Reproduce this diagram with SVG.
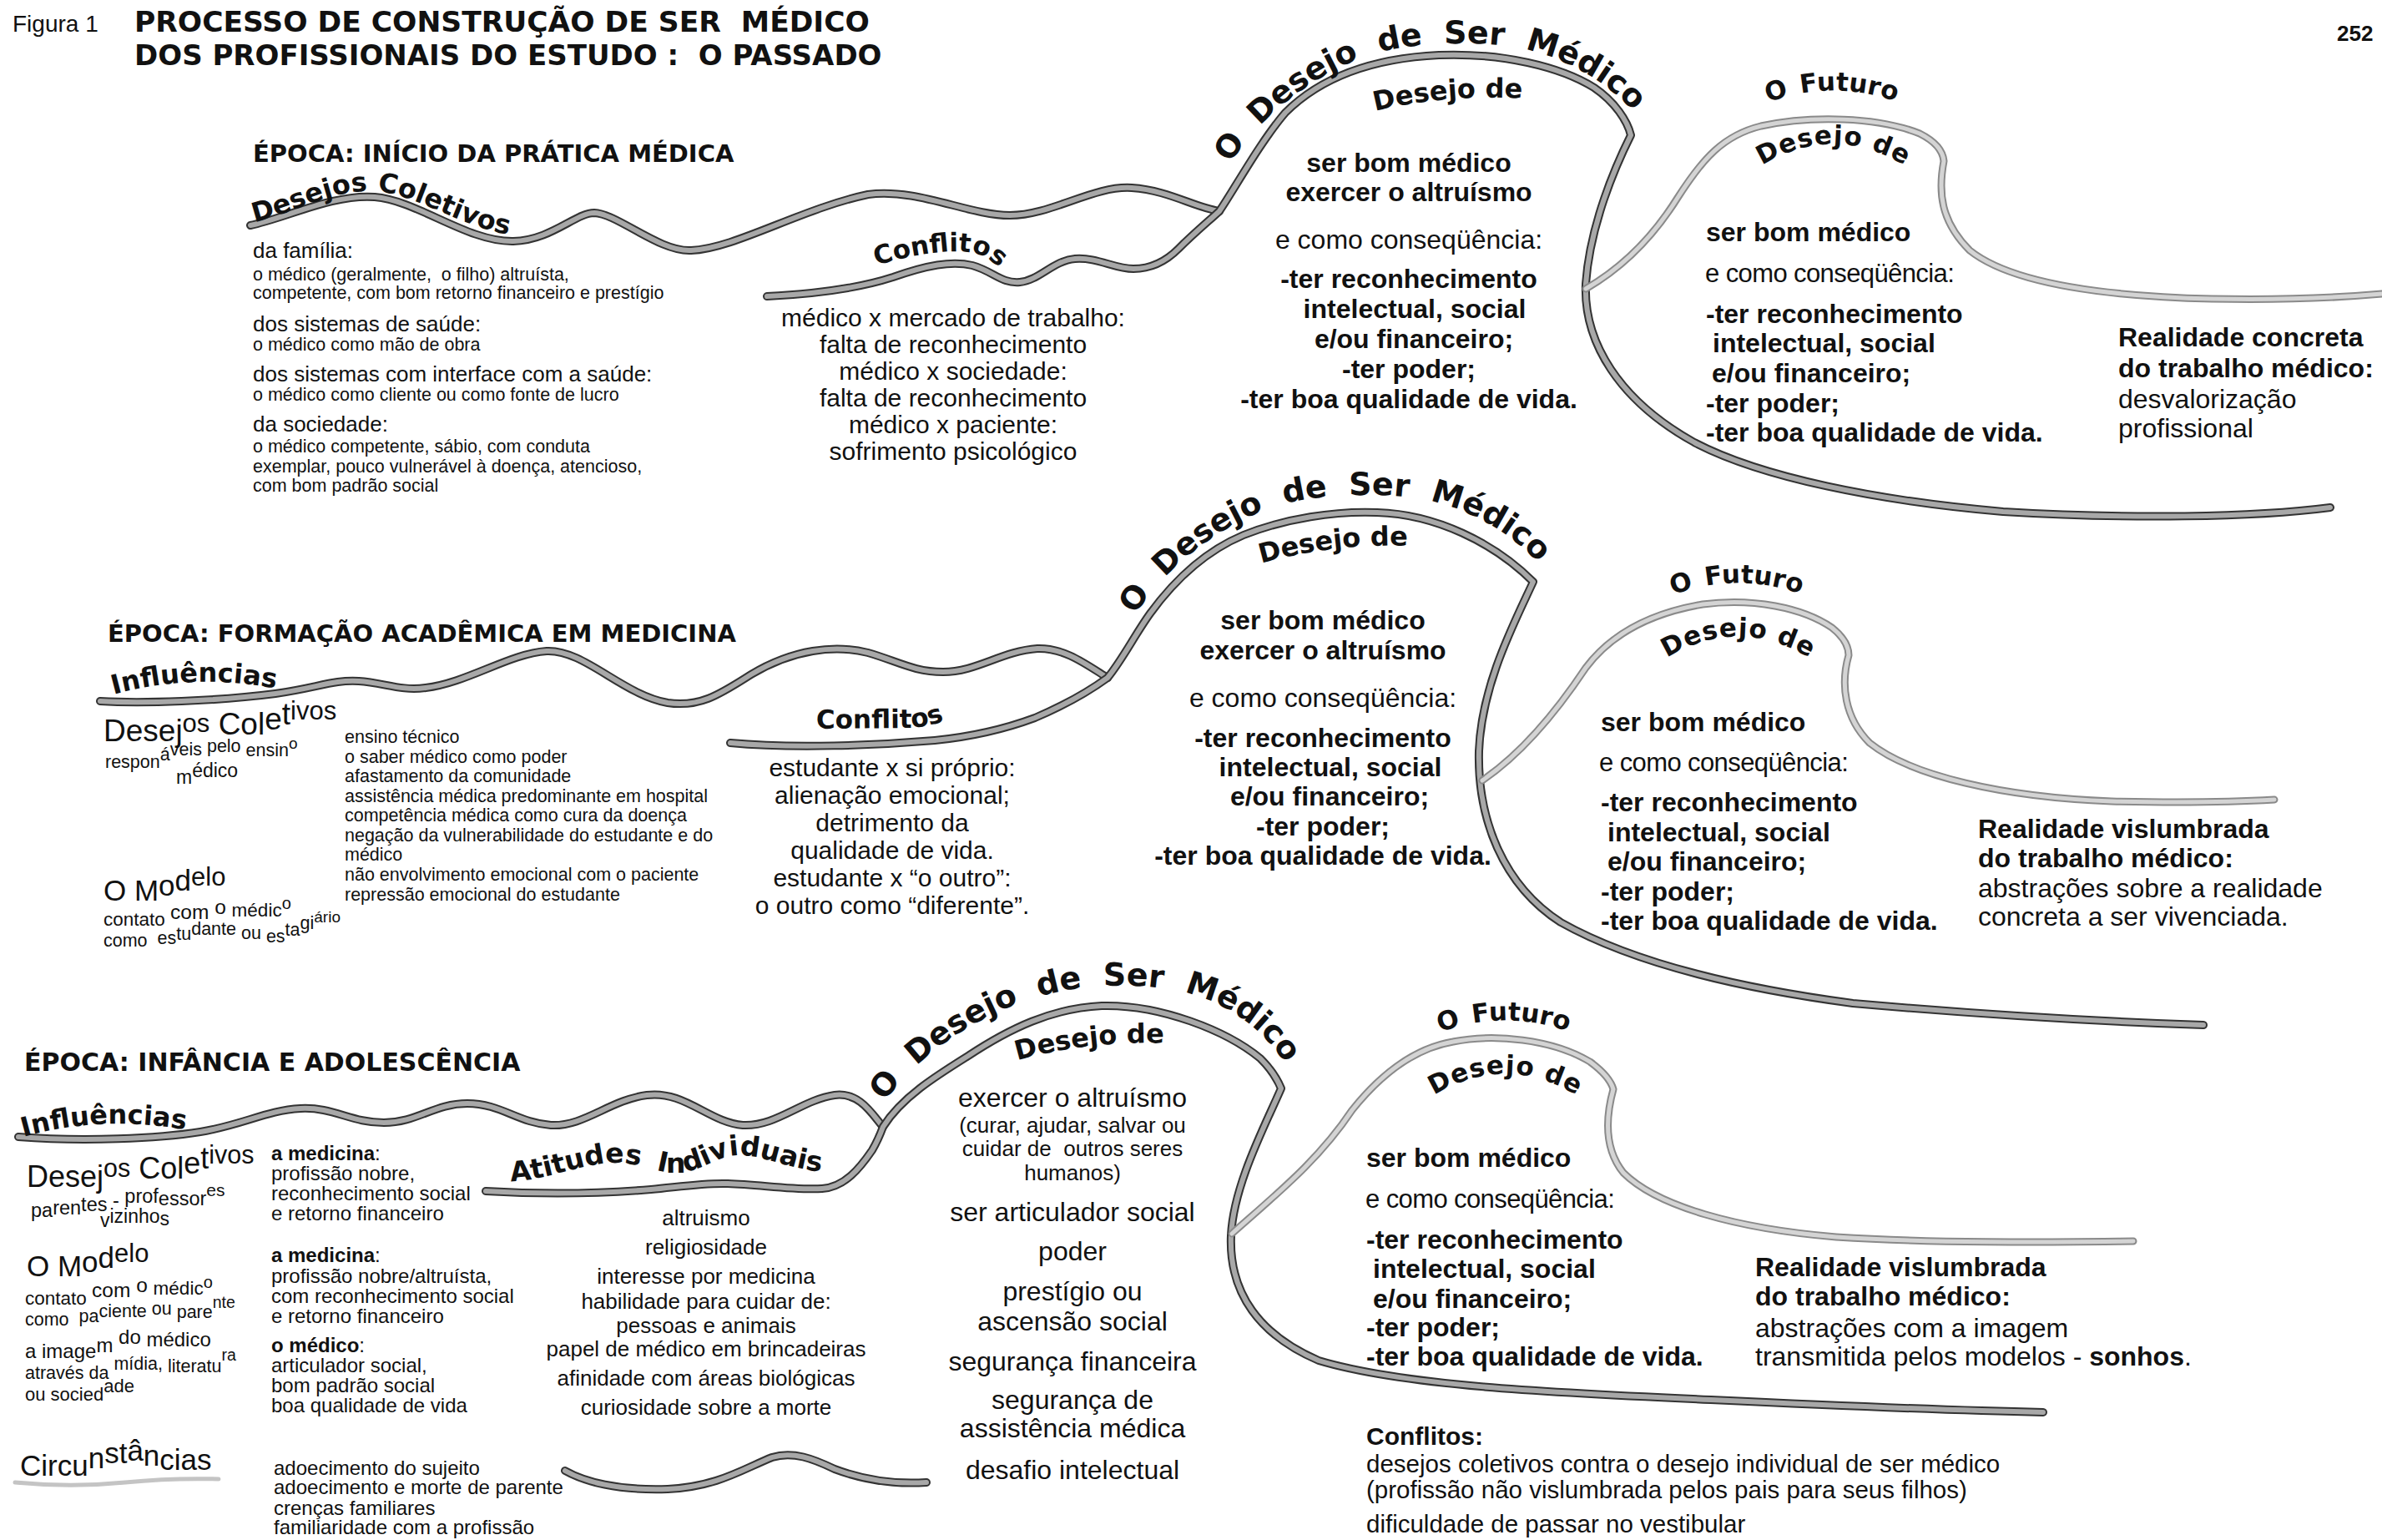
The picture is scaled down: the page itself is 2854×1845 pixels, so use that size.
<svg xmlns="http://www.w3.org/2000/svg" xmlns:xlink="http://www.w3.org/1999/xlink" width="2854" height="1845" viewBox="0 0 2854 1845">
<style>
.t{font-family:"Liberation Sans",Arial,sans-serif;fill:#111}
.b{font-weight:bold}
.h{font-family:"DejaVu Sans",Verdana,sans-serif;font-weight:bold;fill:#111}
.m{text-anchor:middle}
.wo{fill:none;stroke:#333333;stroke-width:10;stroke-linecap:round;stroke-linejoin:round}
.wi{fill:none;stroke:#a8a8a8;stroke-width:6;stroke-linecap:round;stroke-linejoin:round}
.fo{fill:none;stroke:#8a8a8a;stroke-width:9;stroke-linecap:round;stroke-linejoin:round}
.fi{fill:none;stroke:#d4d4d4;stroke-width:5;stroke-linecap:round;stroke-linejoin:round}
.lo{fill:none;stroke:#c4c4c4;stroke-width:5;stroke-linecap:round}
</style>
<defs>
<path id="c1a" d="M300,270 C 340,262 400,232 449,236 C 500,240 560,290 615,289 C 660,288 690,255 712,255 C 740,256 790,302 828,300 C 880,298 960,250 1040,233 C 1100,225 1160,258 1210,258 C 1260,258 1310,222 1356,225 C 1400,228 1430,248 1461,253"/>
<path id="c1b" d="M919,355 C 980,352 1030,345 1070,332 C 1110,318 1140,312 1165,318 C 1190,325 1200,340 1222,338 C 1245,336 1262,312 1288,310 C 1315,308 1335,322 1358,322 C 1380,322 1398,312 1412,298 C 1430,280 1448,265 1461,253 C 1480,225 1510,170 1540,135 C 1580,95 1640,70 1724,66 C 1800,63 1870,80 1910,105 C 1935,122 1950,145 1954,162 C 1935,200 1905,270 1900,340 C 1897,410 1940,480 2030,530 C 2110,572 2250,600 2400,613 C 2550,622 2700,620 2792,608"/>
<path id="c1f" d="M1900,346 C 1945,320 1980,285 2010,237 C 2040,190 2065,162 2110,151 C 2170,138 2250,140 2300,160 C 2320,170 2328,182 2329,193 C 2322,230 2325,265 2360,300 C 2410,340 2520,355 2650,358 C 2750,360 2820,355 2854,352"/>
<path id="c2a" d="M120,840 C 170,843 260,840 330,831 C 380,824 400,814 430,816 C 460,818 480,828 510,824 C 560,818 610,783 655,780 C 700,778 745,832 800,842 C 840,848 865,830 900,808 C 950,778 1000,772 1040,782 C 1075,792 1095,805 1130,805 C 1170,805 1200,780 1243,777 C 1275,776 1300,795 1327,812"/>
<path id="c2b" d="M875,890 C 950,897 1050,893 1120,887 C 1170,882 1205,873 1240,860 C 1280,843 1305,828 1327,812 C 1345,790 1360,760 1378,735 C 1405,698 1440,662 1490,641 C 1540,621 1600,612 1650,614 C 1720,616 1790,650 1837,697 C 1815,745 1775,820 1772,900 C 1770,980 1800,1060 1870,1105 C 1950,1150 2070,1182 2220,1202 C 2380,1216 2520,1224 2640,1228"/>
<path id="c2f" d="M1776,935 C 1820,905 1860,860 1900,800 C 1930,760 1975,735 2040,724 C 2100,716 2160,728 2195,752 C 2210,764 2215,775 2215,785 C 2205,820 2210,860 2240,890 C 2290,930 2400,955 2530,960 C 2620,962 2690,960 2725,958"/>
<path id="c3a" d="M22,1362 C 100,1368 190,1364 240,1356 C 290,1348 320,1330 360,1328 C 400,1326 420,1345 460,1345 C 500,1345 520,1322 560,1322 C 600,1322 620,1345 660,1348 C 700,1350 730,1318 775,1312 C 820,1306 850,1345 890,1348 C 930,1350 960,1318 1000,1312 C 1030,1308 1045,1335 1058,1350"/>
<path id="c3b" d="M582,1427 C 650,1431 720,1430 780,1425 C 820,1421 845,1417 872,1418 C 910,1419 950,1426 985,1424 C 1012,1422 1030,1400 1045,1378 C 1052,1366 1055,1358 1058,1350 C 1080,1315 1120,1290 1160,1265 C 1210,1232 1260,1208 1320,1205 C 1390,1203 1470,1235 1510,1268 C 1522,1280 1530,1292 1535,1304 C 1515,1350 1478,1420 1475,1480 C 1472,1550 1510,1600 1580,1630 C 1680,1660 1850,1668 2050,1677 C 2200,1684 2350,1690 2448,1692"/>
<path id="c3f" d="M1476,1478 C 1530,1430 1580,1390 1620,1330 C 1660,1280 1700,1255 1741,1248 C 1790,1238 1860,1245 1905,1272 C 1920,1283 1930,1294 1933,1305 C 1922,1345 1925,1380 1945,1405 C 1985,1445 2080,1472 2200,1482 C 2330,1490 2460,1488 2556,1487"/>
<path id="c3c" d="M677,1762 C 700,1775 740,1786 800,1784 C 860,1781 890,1760 925,1746 C 950,1738 975,1748 1000,1760 C 1040,1775 1080,1778 1110,1776"/>
<path id="c3d" d="M18,1776 C 60,1780 110,1780 150,1776 C 190,1772 225,1771 262,1772"/>
<!-- text paths -->
<path id="p1dc" d="M305,266 C 345,258 400,226 449,229 C 500,232 560,278 628,284"/>
<path id="p1cf" d="M1050,318 C 1090,306 1140,296 1170,304 C 1190,310 1200,326 1218,336"/>
<path id="p1ds" d="M1474,196 C 1510,140 1570,90 1646,64 C 1700,50 1760,50 1805,55 C 1860,62 1915,90 1952,128"/>
<path id="p1dd" d="M1644,134 Q1730,112 1828,118"/>
<path id="p1fu" d="M2106,128 Q2192,90 2284,126"/>
<path id="p1fd" d="M2098,207 Q2195,138 2296,207"/>
<path id="p2in" d="M136,832 Q235,805 336,826"/>
<path id="p2cf" d="M978,873 L1090,872 Q1120,870 1144,858"/>
<path id="p2ds" d="M1360,737 C 1396,681 1456,631 1532,605 C 1586,591 1646,591 1691,596 C 1746,603 1801,631 1838,669"/>
<path id="p2dd" d="M1504,677 Q1595,650 1694,654"/>
<path id="p2fu" d="M1992,718 Q2078,680 2170,716"/>
<path id="p2fd" d="M1984,797 Q2081,728 2182,797"/>
<path id="p3in" d="M28,1362 Q128,1334 236,1356"/>
<path id="p3at" d="M612,1415 C 660,1414 700,1392 740,1393 C 770,1394 790,1406 812,1405 C 840,1404 860,1384 885,1384 C 920,1384 960,1408 1004,1403"/>
<path id="p3ds" d="M1060,1320 C 1098,1266 1170,1214 1252,1192 C 1302,1179 1350,1178 1400,1185 C 1460,1195 1510,1225 1545,1282"/>
<path id="p3dd" d="M1214,1272 Q1300,1246 1400,1250"/>
<path id="p3fu" d="M1713,1242 Q1799,1204 1891,1240"/>
<path id="p3fd" d="M1705,1321 Q1802,1252 1903,1321"/>
</defs>
<rect width="2854" height="1845" fill="#ffffff"/>

<g id="connectors">
<use href="#c1a" class="wo"/><use href="#c1a" class="wi"/>
<use href="#c1b" class="wo"/><use href="#c1b" class="wi"/>
<use href="#c1f" class="fo"/><use href="#c1f" class="fi"/>
<use href="#c2a" class="wo"/><use href="#c2a" class="wi"/>
<use href="#c2b" class="wo"/><use href="#c2b" class="wi"/>
<use href="#c2f" class="fo"/><use href="#c2f" class="fi"/>
<use href="#c3a" class="wo"/><use href="#c3a" class="wi"/>
<use href="#c3b" class="wo"/><use href="#c3b" class="wi"/>
<use href="#c3f" class="fo"/><use href="#c3f" class="fi"/>
<use href="#c3c" class="wo"/><use href="#c3c" class="wi"/>
<use href="#c3d" class="lo"/>
</g>

<g id="title">
<text class="t" x="15" y="38" font-size="28">Figura 1</text>
<text class="h" x="161" y="38" font-size="34.5">PROCESSO DE CONSTRUÇÃO DE SER&#160; MÉDICO</text>
<text class="h" x="161" y="78" font-size="34">DOS PROFISSIONAIS DO ESTUDO :&#160; O PASSADO</text>
<text class="t b" x="2800" y="49" font-size="26">252</text>
</g>

<!-- SECTION 1 -->
<g id="s1-epoca"><text class="h" x="303" y="194" font-size="29">ÉPOCA: INÍCIO DA PRÁTICA MÉDICA</text></g>
<g id="s1-desejos-coletivos">
<text class="h" font-size="32"><textPath href="#p1dc">Desejos Coletivos</textPath></text>
<text class="t" x="303" font-size="26"><tspan x="303" y="309">da família:</tspan></text>
<text class="t" font-size="21.5"><tspan x="303" y="336">o médico (geralmente,&#160; o filho) altruísta,</tspan><tspan x="303" y="358">competente, com bom retorno financeiro e prestígio</tspan></text>
<text class="t" x="303" y="397" font-size="26">dos sistemas de saúde:</text>
<text class="t" x="303" y="420" font-size="21.5">o médico como mão de obra</text>
<text class="t" x="303" y="457" font-size="26">dos sistemas com interface com a saúde:</text>
<text class="t" x="303" y="480" font-size="21.5">o médico como cliente ou como fonte de lucro</text>
<text class="t" x="303" y="517" font-size="26">da sociedade:</text>
<text class="t" font-size="21.5"><tspan x="303" y="542">o médico competente, sábio, com conduta</tspan><tspan x="303" y="566">exemplar, pouco vulnerável à doença, atencioso,</tspan><tspan x="303" y="589">com bom padrão social</tspan></text>
</g>
<g id="s1-conflitos">
<text class="h" font-size="31"><textPath href="#p1cf">Conflitos</textPath></text>
<text class="t m" font-size="30"><tspan x="1142" y="391">médico x mercado de trabalho:</tspan><tspan x="1142" y="423">falta de reconhecimento</tspan><tspan x="1142" y="455">médico x sociedade:</tspan><tspan x="1142" y="487">falta de reconhecimento</tspan><tspan x="1142" y="519">médico x paciente:</tspan><tspan x="1142" y="551">sofrimento psicológico</tspan></text>
</g>
<g id="s1-desejo">
<text class="h" font-size="38" word-spacing="12"><textPath href="#p1ds">O Desejo de Ser Médico</textPath></text>
<text class="h" font-size="32"><textPath href="#p1dd" startOffset="50%" text-anchor="middle">Desejo de</textPath></text>
<text class="t b m" font-size="32"><tspan x="1688" y="206">ser bom médico</tspan><tspan x="1688" y="241">exercer o altruísmo</tspan></text>
<text class="t m" x="1688" y="298" font-size="32">e como conseqüência:</text>
<text class="t b m" font-size="32"><tspan x="1688" y="345">-ter reconhecimento</tspan><tspan x="1695" y="381">intelectual, social</tspan><tspan x="1694" y="417">e/ou financeiro;</tspan><tspan x="1688" y="453">-ter poder;</tspan><tspan x="1688" y="489">-ter boa qualidade de vida.</tspan></text>
</g>
<g id="s1-futuro">
<text class="h" font-size="31" word-spacing="4"><textPath href="#p1fu" startOffset="50%" text-anchor="middle">O Futuro</textPath></text>
<text class="h" font-size="31" letter-spacing="1"><textPath href="#p1fd" startOffset="50%" text-anchor="middle">Desejo de</textPath></text>
<text class="t b" x="2044" y="289" font-size="32">ser bom médico</text>
<text class="t" x="2043" y="338" font-size="31" letter-spacing="-0.6">e como conseqüência:</text>
<text class="t b" font-size="32"><tspan x="2044" y="387">-ter reconhecimento</tspan><tspan x="2052" y="422">intelectual, social</tspan><tspan x="2051" y="458">e/ou financeiro;</tspan><tspan x="2044" y="494">-ter poder;</tspan><tspan x="2044" y="529">-ter boa qualidade de vida.</tspan></text>
</g>
<g id="s1-realidade">
<text class="t b" font-size="32"><tspan x="2538" y="415">Realidade concreta</tspan><tspan x="2538" y="452">do trabalho médico:</tspan></text>
<text class="t" font-size="32"><tspan x="2538" y="489">desvalorização</tspan><tspan x="2538" y="524">profissional</tspan></text>
</g>

<!-- SECTION 2 -->
<g id="s2-epoca"><text class="h" x="129" y="769" font-size="29">ÉPOCA: FORMAÇÃO ACADÊMICA EM MEDICINA</text></g>
<g id="s2-influencias">
<text class="h" font-size="32"><textPath href="#p2in">Influências</textPath></text>
<text class="t" x="124" font-size="37"><tspan y="888">Desej</tspan><tspan y="877" font-size="31">os</tspan><tspan y="880"> Col</tspan><tspan y="874">e</tspan><tspan y="868">t</tspan><tspan y="862" font-size="31">ivos</tspan></text>
<text class="t" x="126" font-size="21.5"><tspan y="920">respon</tspan><tspan y="911">á</tspan><tspan y="905">veis</tspan><tspan y="901"> pelo</tspan><tspan y="906"> ensin</tspan><tspan y="897" font-size="19">o</tspan></text>
<text class="t" x="211" font-size="23"><tspan y="939">m</tspan><tspan y="931">édico</tspan></text>
<text class="t" x="124" font-size="35"><tspan y="1079">O M</tspan><tspan y="1073">o</tspan><tspan y="1067">d</tspan><tspan y="1061" font-size="31">elo</tspan></text>
<text class="t" x="124" font-size="22.5"><tspan y="1109">contato </tspan><tspan y="1101" font-size="24.5">com</tspan><tspan y="1095" font-size="24.5"> o </tspan><tspan y="1098">médic</tspan><tspan y="1089" font-size="20">o</tspan></text>
<text class="t" x="124" font-size="21.5"><tspan y="1134">como&#160; </tspan><tspan y="1131">es</tspan><tspan y="1126">tu</tspan><tspan y="1120">dante</tspan><tspan y="1125"> ou </tspan><tspan y="1129">es</tspan><tspan y="1121">ta</tspan><tspan y="1113">gi</tspan><tspan y="1105" font-size="19">ário</tspan></text>
<text class="t" font-size="21.5"><tspan x="413" y="890">ensino técnico</tspan><tspan x="413" y="914">o saber médico como poder</tspan><tspan x="413" y="937">afastamento da comunidade</tspan><tspan x="413" y="961">assistência médica predominante em hospital</tspan><tspan x="413" y="984">competência médica como cura da doença</tspan><tspan x="413" y="1008">negação da vulnerabilidade do estudante e do</tspan><tspan x="413" y="1031">médico</tspan><tspan x="413" y="1055">não envolvimento emocional com o paciente</tspan><tspan x="413" y="1079">repressão emocional do estudante</tspan></text>
</g>
<g id="s2-conflitos">
<text class="h" font-size="31"><textPath href="#p2cf">Conflitos</textPath></text>
<text class="t m" font-size="30"><tspan x="1069" y="930">estudante x si próprio:</tspan><tspan x="1069" y="963">alienação emocional;</tspan><tspan x="1069" y="996">detrimento da</tspan><tspan x="1069" y="1029">qualidade de vida.</tspan><tspan x="1069" y="1062">estudante x “o outro”:</tspan><tspan x="1069" y="1095">o outro como “diferente”.</tspan></text>
</g>
<g id="s2-desejo">
<text class="h" font-size="38" word-spacing="12"><textPath href="#p2ds">O Desejo de Ser Médico</textPath></text>
<text class="h" font-size="32"><textPath href="#p2dd" startOffset="50%" text-anchor="middle">Desejo de</textPath></text>
<text class="t b m" font-size="32"><tspan x="1585" y="754">ser bom médico</tspan><tspan x="1585" y="790">exercer o altruísmo</tspan></text>
<text class="t m" x="1585" y="847" font-size="32">e como conseqüência:</text>
<text class="t b m" font-size="32"><tspan x="1585" y="895">-ter reconhecimento</tspan><tspan x="1594" y="930">intelectual, social</tspan><tspan x="1593" y="965">e/ou financeiro;</tspan><tspan x="1585" y="1001">-ter poder;</tspan><tspan x="1585" y="1036">-ter boa qualidade de vida.</tspan></text>
</g>
<g id="s2-futuro">
<text class="h" font-size="31" word-spacing="4"><textPath href="#p2fu" startOffset="50%" text-anchor="middle">O Futuro</textPath></text>
<text class="h" font-size="31" letter-spacing="1"><textPath href="#p2fd" startOffset="50%" text-anchor="middle">Desejo de</textPath></text>
<text class="t b" x="1918" y="876" font-size="32">ser bom médico</text>
<text class="t" x="1916" y="924" font-size="31" letter-spacing="-0.6">e como conseqüência:</text>
<text class="t b" font-size="32"><tspan x="1918" y="972">-ter reconhecimento</tspan><tspan x="1926" y="1008">intelectual, social</tspan><tspan x="1926" y="1043">e/ou financeiro;</tspan><tspan x="1918" y="1079">-ter poder;</tspan><tspan x="1918" y="1114">-ter boa qualidade de vida.</tspan></text>
</g>
<g id="s2-realidade">
<text class="t b" font-size="32"><tspan x="2370" y="1004">Realidade vislumbrada</tspan><tspan x="2370" y="1039">do trabalho médico:</tspan></text>
<text class="t" font-size="32"><tspan x="2370" y="1075">abstrações sobre a realidade</tspan><tspan x="2370" y="1109">concreta a ser vivenciada.</tspan></text>
</g>

<!-- SECTION 3 -->
<g id="s3-epoca"><text class="h" x="29" y="1283" font-size="30">ÉPOCA: INFÂNCIA E ADOLESCÊNCIA</text></g>
<g id="s3-influencias">
<text class="h" font-size="32"><textPath href="#p3in">Influências</textPath></text>
<text class="t" x="32" font-size="36"><tspan y="1422">Desej</tspan><tspan y="1410" font-size="30.5">os</tspan><tspan y="1412"> Col</tspan><tspan y="1406">e</tspan><tspan y="1400">t</tspan><tspan y="1394" font-size="30.5">ivos</tspan></text>
<text class="t" x="37" font-size="23.5"><tspan y="1458">pa</tspan><tspan y="1455">ren</tspan><tspan y="1451">tes</tspan><tspan y="1446"> - </tspan><tspan y="1441">prof</tspan><tspan y="1444">essor</tspan><tspan y="1433" font-size="21">es</tspan></text>
<text class="t" x="120" font-size="23"><tspan y="1470">v</tspan><tspan y="1465">izinho</tspan><tspan y="1468">s</tspan></text>
<text class="t" x="32" font-size="35"><tspan y="1529">O M</tspan><tspan y="1524">o</tspan><tspan y="1519">d</tspan><tspan y="1512" font-size="31">elo</tspan></text>
<text class="t" x="30" font-size="22.5"><tspan y="1563">contato </tspan><tspan y="1554" font-size="24.5">com</tspan><tspan y="1548" font-size="24.5"> o </tspan><tspan y="1551">médic</tspan><tspan y="1543" font-size="20">o</tspan></text>
<text class="t" x="30" font-size="21.5"><tspan y="1588">como&#160; </tspan><tspan y="1584">pa</tspan><tspan y="1578">ciente</tspan><tspan y="1575"> ou </tspan><tspan y="1579">pare</tspan><tspan y="1567" font-size="19.5">nte</tspan></text>
<text class="t" x="30" font-size="24"><tspan y="1627">a image</tspan><tspan y="1620">m</tspan><tspan y="1610"> do </tspan><tspan y="1613">médico</tspan></text>
<text class="t" x="30" font-size="21.5"><tspan y="1652">através da </tspan><tspan y="1641">mídia, </tspan><tspan y="1644">literatu</tspan><tspan y="1630" font-size="19.5">ra</tspan></text>
<text class="t" x="30" font-size="22"><tspan y="1678">ou socied</tspan><tspan y="1668">ade</tspan></text>
<text class="t" font-size="24"><tspan x="325" y="1390" font-weight="bold">a medicina</tspan><tspan>:</tspan><tspan x="325" y="1414">profissão nobre,</tspan><tspan x="325" y="1438">reconhecimento social</tspan><tspan x="325" y="1462">e retorno financeiro</tspan></text>
<text class="t" font-size="24"><tspan x="325" y="1512" font-weight="bold">a medicina</tspan><tspan>:</tspan><tspan x="325" y="1537">profissão nobre/altruísta,</tspan><tspan x="325" y="1561">com reconhecimento social</tspan><tspan x="325" y="1585">e retorno financeiro</tspan></text>
<text class="t" font-size="24"><tspan x="325" y="1620" font-weight="bold">o médico</tspan><tspan>:</tspan><tspan x="325" y="1644">articulador social,</tspan><tspan x="325" y="1668">bom padrão social</tspan><tspan x="325" y="1692">boa qualidade de vida</tspan></text>
</g>
<g id="s3-circunstancias">
<text class="t" x="24" font-size="35"><tspan y="1768">Circu</tspan><tspan y="1759">n</tspan><tspan y="1753">st</tspan><tspan y="1750">â</tspan><tspan y="1756">n</tspan><tspan y="1761">cias</tspan></text>
<text class="t" font-size="24"><tspan x="328" y="1767">adoecimento do sujeito</tspan><tspan x="328" y="1790">adoecimento e morte de parente</tspan><tspan x="328" y="1815">crenças familiares</tspan><tspan x="328" y="1838">familiaridade com a profissão</tspan></text>
</g>
<g id="s3-atitudes">
<text class="h" font-size="33" word-spacing="8"><textPath href="#p3at">Atitudes Individuais</textPath></text>
<text class="t m" font-size="26"><tspan x="846" y="1468">altruismo</tspan><tspan x="846" y="1503">religiosidade</tspan><tspan x="846" y="1538">interesse por medicina</tspan><tspan x="846" y="1568">habilidade para cuidar de:</tspan><tspan x="846" y="1597">pessoas e animais</tspan><tspan x="846" y="1625">papel de médico em brincadeiras</tspan><tspan x="846" y="1660">afinidade com áreas biológicas</tspan><tspan x="846" y="1695">curiosidade sobre a morte</tspan></text>
</g>
<g id="s3-desejo">
<text class="h" font-size="38" word-spacing="12"><textPath href="#p3ds">O Desejo de Ser Médico</textPath></text>
<text class="h" font-size="32"><textPath href="#p3dd" startOffset="50%" text-anchor="middle">Desejo de</textPath></text>
<text class="t m" font-size="32"><tspan x="1285" y="1326">exercer o altruísmo</tspan></text>
<text class="t m" font-size="26"><tspan x="1285" y="1357">(curar, ajudar, salvar ou</tspan><tspan x="1285" y="1385">cuidar de&#160; outros seres</tspan><tspan x="1285" y="1414">humanos)</tspan></text>
<text class="t m" font-size="32"><tspan x="1285" y="1463">ser articulador social</tspan><tspan x="1285" y="1510">poder</tspan><tspan x="1285" y="1558">prestígio ou</tspan><tspan x="1285" y="1594">ascensão social</tspan><tspan x="1285" y="1642">segurança financeira</tspan><tspan x="1285" y="1688">segurança de</tspan><tspan x="1285" y="1722">assistência médica</tspan><tspan x="1285" y="1772">desafio intelectual</tspan></text>
</g>
<g id="s3-futuro">
<text class="h" font-size="31" word-spacing="4"><textPath href="#p3fu" startOffset="50%" text-anchor="middle">O Futuro</textPath></text>
<text class="h" font-size="31" letter-spacing="1"><textPath href="#p3fd" startOffset="50%" text-anchor="middle">Desejo de</textPath></text>
<text class="t b" x="1637" y="1398" font-size="32">ser bom médico</text>
<text class="t" x="1636" y="1447" font-size="31" letter-spacing="-0.6">e como conseqüência:</text>
<text class="t b" font-size="32"><tspan x="1637" y="1496">-ter reconhecimento</tspan><tspan x="1645" y="1531">intelectual, social</tspan><tspan x="1645" y="1567">e/ou financeiro;</tspan><tspan x="1637" y="1601">-ter poder;</tspan><tspan x="1637" y="1636">-ter boa qualidade de vida.</tspan></text>
</g>
<g id="s3-realidade">
<text class="t b" font-size="32"><tspan x="2103" y="1529">Realidade vislumbrada</tspan><tspan x="2103" y="1564">do trabalho médico:</tspan></text>
<text class="t" font-size="32"><tspan x="2103" y="1602">abstrações com a imagem</tspan><tspan x="2103" y="1636">transmitida pelos modelos - <tspan font-weight="bold">sonhos</tspan>.</tspan></text>
</g>
<g id="s3-conflitos">
<text class="t b" x="1637" y="1731" font-size="30">Conflitos:</text>
<text class="t" font-size="29.5"><tspan x="1637" y="1764">desejos coletivos contra o desejo individual de ser médico</tspan><tspan x="1637" y="1795">(profissão não vislumbrada pelos pais para seus filhos)</tspan><tspan x="1637" y="1836">dificuldade de passar no vestibular</tspan></text>
</g>
</svg>
